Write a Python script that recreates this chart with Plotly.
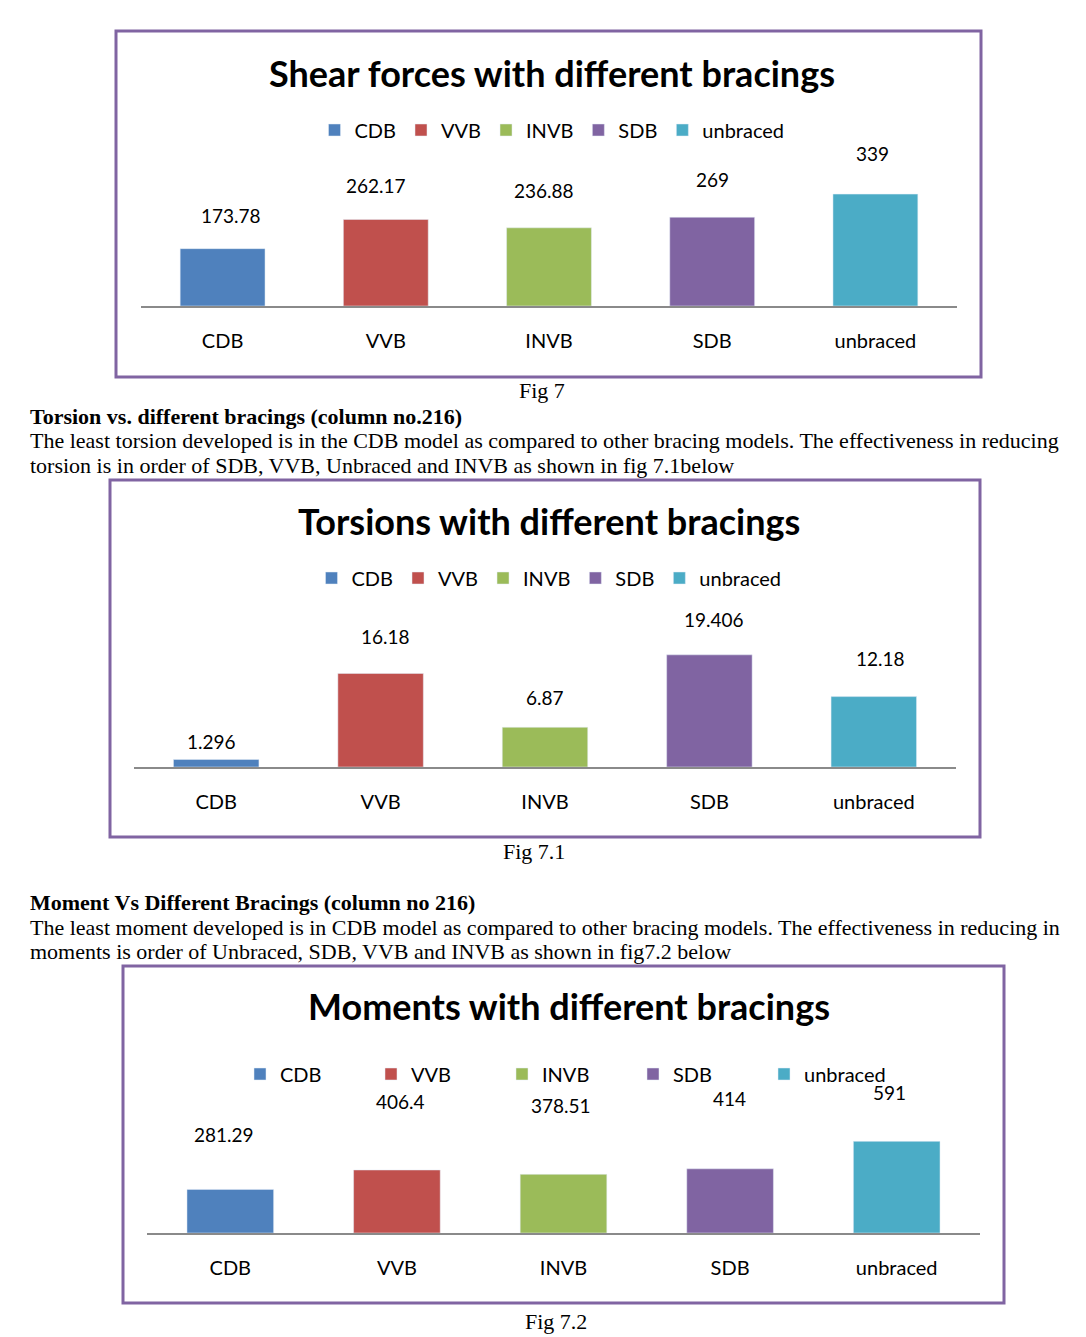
import plotly.graph_objects as go

# ---------------- data ----------------
categories = ["CDB", "VVB", "INVB", "SDB", "unbraced"]
shear_values = [173.78, 262.17, 236.88, 269, 339]
torsion_values = [1.296, 16.18, 6.87, 19.406, 12.18]
moment_values = [281.29, 406.4, 378.51, 414, 591]

chart_titles = ["Shear forces with different bracings",
                "Torsions with different bracings",
                "Moments with different bracings"]
fig_captions = ["Fig 7", "Fig 7.1", "Fig 7.2"]

heading_1 = "Torsion vs. different bracings (column no.216)"
para_1 = ["The least torsion developed is in the CDB model as compared to other bracing models. The effectiveness in reducing",
          "torsion is in order of SDB, VVB, Unbraced and INVB as shown in fig 7.1below"]
heading_2 = "Moment Vs Different Bracings (column no 216)"
para_2 = ["The least moment developed is in CDB model as compared to other bracing models. The effectiveness in reducing in",
          "moments is order of Unbraced, SDB, VVB and INVB as shown in fig7.2 below"]

# ---------------- style ----------------
colors = ["#4f81bd", "#c0504d", "#9bbb59", "#8064a2", "#4bacc6"]
frame_color = "#8064a2"
axis_color = "#8a8a8a"
chart_font = "Lato"
doc_font = "Liberation Serif"

W, H = 1086, 1337


def px_x(v):
    return v / W


def px_y(v):
    return 1 - v / H


# layout of each chart (pixels)
layouts = [
    dict(frame=(116, 31, 981, 377), title=(552, 73), legend=(552, 130, "center", None),
         plotx=(141, 957), ploty=(150, 306), scale=3.03,
         lshift=[33, 34, 37, 38, 41], xshift=[8, -10, -5, 0, -3], caption=(542, 390)),
    dict(frame=(110, 480, 980, 837), title=(549, 521), legend=(549, 578, "center", None),
         plotx=(134, 956), ploty=(600, 767), scale=0.173,
         lshift=[18, 37, 30, 35, 38], xshift=[-5, 5, 0, 5, 7], caption=(534, 851)),
    dict(frame=(123, 966, 1004, 1303), title=(569, 1006), legend=(240, 1074, "left", 86),
         plotx=(147, 980), ploty=(1090, 1233), scale=6.45,
         lshift=[55, 68, 69, 70, 49], xshift=[-6, 4, -3, -1, -7], caption=(556, 1321)),
]

datasets = [shear_values, torsion_values, moment_values]

fig = go.Figure()
shapes = []
annotations = []
layout_upd = {}

for i, (vals, lay) in enumerate(zip(datasets, layouts)):
    n = "" if i == 0 else str(i + 1)
    xa, ya = "x" + n, "y" + n
    lg = "legend" + n
    for c, v, col in zip(categories, vals, colors):
        fig.add_trace(go.Bar(x=[c], y=[v], name=c, marker_color=col, width=0.52,
                             xaxis=xa, yaxis=ya, legend=lg, hoverinfo="x+y"))
    # value labels
    for j, (c, v) in enumerate(zip(categories, vals)):
        annotations.append(dict(x=c, y=v, xref=xa, yref=ya, text=f"{v:g}", showarrow=False,
                                yanchor="middle", yshift=lay["lshift"][j], xshift=lay["xshift"][j],
                                font=dict(family=chart_font, size=19, color="black")))
    x0, x1 = lay["plotx"]
    yt, yb = lay["ploty"]
    rng = (yb - yt) * lay["scale"]
    layout_upd["xaxis" + n] = dict(domain=[px_x(x0), px_x(x1)], anchor=ya,
                                   showline=True, linecolor=axis_color, linewidth=2,
                                   ticks="outside", ticklen=16, tickcolor="rgba(0,0,0,0)",
                                   tickfont=dict(family=chart_font, size=20, color="black"),
                                   showgrid=False, zeroline=False, fixedrange=True,
                                   categoryorder="array", categoryarray=categories)
    layout_upd["yaxis" + n] = dict(domain=[px_y(yb), px_y(yt)], anchor=xa, range=[0, rng],
                                   visible=False, fixedrange=True)
    lx, ly, lanchor, ew = lay["legend"]
    leg = dict(orientation="h", x=px_x(lx), y=px_y(ly), xanchor=lanchor, yanchor="middle",
               font=dict(family=chart_font, size=20, color="black"), bgcolor="rgba(0,0,0,0)",
               traceorder="normal", itemclick=False, itemdoubleclick=False)
    if ew:
        leg["entrywidth"] = ew
        leg["entrywidthmode"] = "pixels"
    layout_upd[lg] = leg
    # frame
    fx0, fy0, fx1, fy1 = lay["frame"]
    shapes.append(dict(type="rect", xref="paper", yref="paper", x0=px_x(fx0), x1=px_x(fx1),
                       y0=px_y(fy1), y1=px_y(fy0), line=dict(color=frame_color, width=3),
                       fillcolor="rgba(0,0,0,0)", layer="above"))
    # title
    tx, ty = lay["title"]
    annotations.append(dict(x=px_x(tx), y=px_y(ty), xref="paper", yref="paper",
                            text="<b>" + chart_titles[i] + "</b>", showarrow=False,
                            xanchor="center", yanchor="middle",
                            font=dict(family=chart_font, size=36, color="black")))
    # caption
    cx, cy = lay["caption"]
    annotations.append(dict(x=px_x(cx), y=px_y(cy), xref="paper", yref="paper",
                            text=fig_captions[i], showarrow=False, xanchor="center",
                            yanchor="middle", font=dict(family=doc_font, size=22, color="black")))

# document text blocks
text_blocks = [
    (heading_1, 416, True), (para_1[0], 441, False), (para_1[1], 465, False),
    (heading_2, 902, True), (para_2[0], 927, False), (para_2[1], 951, False),
]
for txt, yy, bold in text_blocks:
    annotations.append(dict(x=px_x(28), y=px_y(yy), xref="paper", yref="paper",
                            text=("<b>" + txt + "</b>") if bold else txt, showarrow=False,
                            xanchor="left", yanchor="middle",
                            font=dict(family=doc_font, size=22, color="black")))

fig.update_layout(
    width=W, height=H, margin=dict(l=0, r=0, t=0, b=0),
    paper_bgcolor="white", plot_bgcolor="white",
    barmode="overlay", showlegend=True,
    shapes=shapes, annotations=annotations,
    **layout_upd,
)

fig.write_html("out.html", config={"displayModeBar": False},
               post_script="document.body.style.margin='0';document.body.style.overflow='hidden';")
